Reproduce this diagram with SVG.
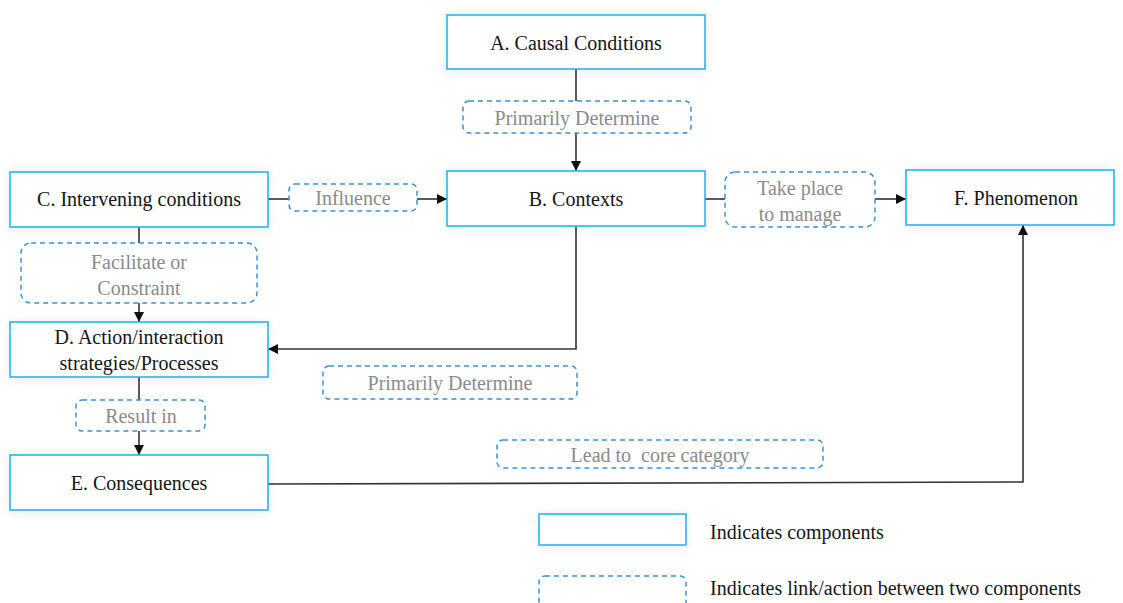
<svg xmlns="http://www.w3.org/2000/svg" width="1123" height="603" viewBox="0 0 1123 603" font-family="'Liberation Serif', Tinos, 'Times New Roman', Times, serif" font-size="20">
  <defs>
    <marker id="arrow" viewBox="0 0 10 10" refX="10" refY="5" markerWidth="10" markerHeight="10" markerUnits="userSpaceOnUse" orient="auto">
      <path d="M0,0 L10,5 L0,10 Z" fill="#111"/>
    </marker>
    <filter id="halo" x="-10%" y="-30%" width="120%" height="160%">
      <feGaussianBlur stdDeviation="4"/>
    </filter>
  </defs>
  <style>
    .halo { fill: #eeeeee; filter: url(#halo); }
    .node { fill: #ffffff; stroke: #2bb5ef; stroke-width: 1.6; }
    .link { fill: #ffffff; stroke: #3a91d8; stroke-width: 1.5; stroke-dasharray: 5 4; }
    .label { fill: #151515; text-anchor: middle; }
    .note { fill: #8a8a8a; text-anchor: middle; white-space: pre; }
    .legend { fill: #151515; }
    .edge { fill: none; stroke: #333; stroke-width: 1.6; }
  </style>
  <rect width="1123" height="603" fill="#ffffff"/>

  <!-- soft halos behind component boxes -->
  <g id="halos">
    <rect class="halo" x="445" y="13" width="262" height="60" rx="8"/>
    <rect class="halo" x="445" y="169" width="262" height="61" rx="8"/>
    <rect class="halo" x="8" y="170" width="262" height="61" rx="8"/>
    <rect class="halo" x="904" y="168" width="212" height="61" rx="8"/>
    <rect class="halo" x="8" y="320" width="262" height="61" rx="8"/>
    <rect class="halo" x="8" y="453" width="262" height="61" rx="8"/>
    <rect class="halo" x="537" y="512" width="151" height="37" rx="8"/>
  </g>

  <!-- connectors -->
  <g id="connectors">
    <path class="edge" d="M576,69 V101"/>
    <path class="edge" d="M576,133 V171" marker-end="url(#arrow)"/>
    <path class="edge" d="M268,199 H289"/>
    <path class="edge" d="M417,199 H447" marker-end="url(#arrow)"/>
    <path class="edge" d="M705,199 H725"/>
    <path class="edge" d="M875,199 H906" marker-end="url(#arrow)"/>
    <path class="edge" d="M139,227 V243"/>
    <path class="edge" d="M139,303 V322" marker-end="url(#arrow)"/>
    <path class="edge" d="M576,226 V349 H268" marker-end="url(#arrow)"/>
    <path class="edge" d="M139,377 V400"/>
    <path class="edge" d="M139,431 V455" marker-end="url(#arrow)"/>
    <path class="edge" d="M268,484 L1023,482 V225" marker-end="url(#arrow)"/>
  </g>

  <!-- components (text y = baseline) -->
  <g id="node-a">
    <rect class="node" x="447" y="15" width="258" height="54"/>
    <text class="label" x="576" y="50">A. Causal Conditions</text>
  </g>
  <g id="node-b">
    <rect class="node" x="447" y="171" width="258" height="55"/>
    <text class="label" x="576" y="206">B. Contexts</text>
  </g>
  <g id="node-c">
    <rect class="node" x="10" y="172" width="258" height="55"/>
    <text class="label" x="139" y="206">C. Intervening conditions</text>
  </g>
  <g id="node-d">
    <rect class="node" x="10" y="322" width="258" height="55"/>
    <text class="label" x="139" y="344">D. Action/interaction</text>
    <text class="label" x="139" y="370">strategies/Processes</text>
  </g>
  <g id="node-e">
    <rect class="node" x="10" y="455" width="258" height="55"/>
    <text class="label" x="139" y="490">E. Consequences</text>
  </g>
  <g id="node-f">
    <rect class="node" x="906" y="170" width="208" height="55"/>
    <text class="label" x="1016" y="205">F. Phenomenon</text>
  </g>

  <!-- links / actions -->
  <g id="link-a-b">
    <rect class="link" x="463" y="101" width="228" height="32" rx="6"/>
    <text class="note" x="577" y="125">Primarily Determine</text>
  </g>
  <g id="link-c-b">
    <rect class="link" x="289" y="184" width="128" height="27" rx="6"/>
    <text class="note" x="353" y="205">Influence</text>
  </g>
  <g id="link-b-f">
    <rect class="link" x="725" y="172" width="150" height="55" rx="10"/>
    <text class="note" x="800" y="195">Take place</text>
    <text class="note" x="800" y="221">to manage</text>
  </g>
  <g id="link-c-d">
    <rect class="link" x="21" y="243" width="236" height="60" rx="10"/>
    <text class="note" x="139" y="269">Facilitate or</text>
    <text class="note" x="139" y="295">Constraint</text>
  </g>
  <g id="link-b-d">
    <rect class="link" x="323" y="366" width="254" height="33" rx="6"/>
    <text class="note" x="450" y="390">Primarily Determine</text>
  </g>
  <g id="link-d-e">
    <rect class="link" x="76" y="400" width="129" height="31" rx="6"/>
    <text class="note" x="141" y="423">Result in</text>
  </g>
  <g id="link-e-f">
    <rect class="link" x="497" y="440" width="326" height="28" rx="6"/>
    <text class="note" x="660" y="462" xml:space="preserve">Lead to  core category</text>
  </g>

  <!-- legend -->
  <g id="legend">
    <rect class="node" x="539" y="514" width="147" height="31"/>
    <text class="legend" x="710" y="539">Indicates components</text>
    <rect class="link" x="539" y="576" width="147" height="40" rx="6"/>
    <text class="legend" x="710" y="595">Indicates link/action between two components</text>
  </g>
</svg>
